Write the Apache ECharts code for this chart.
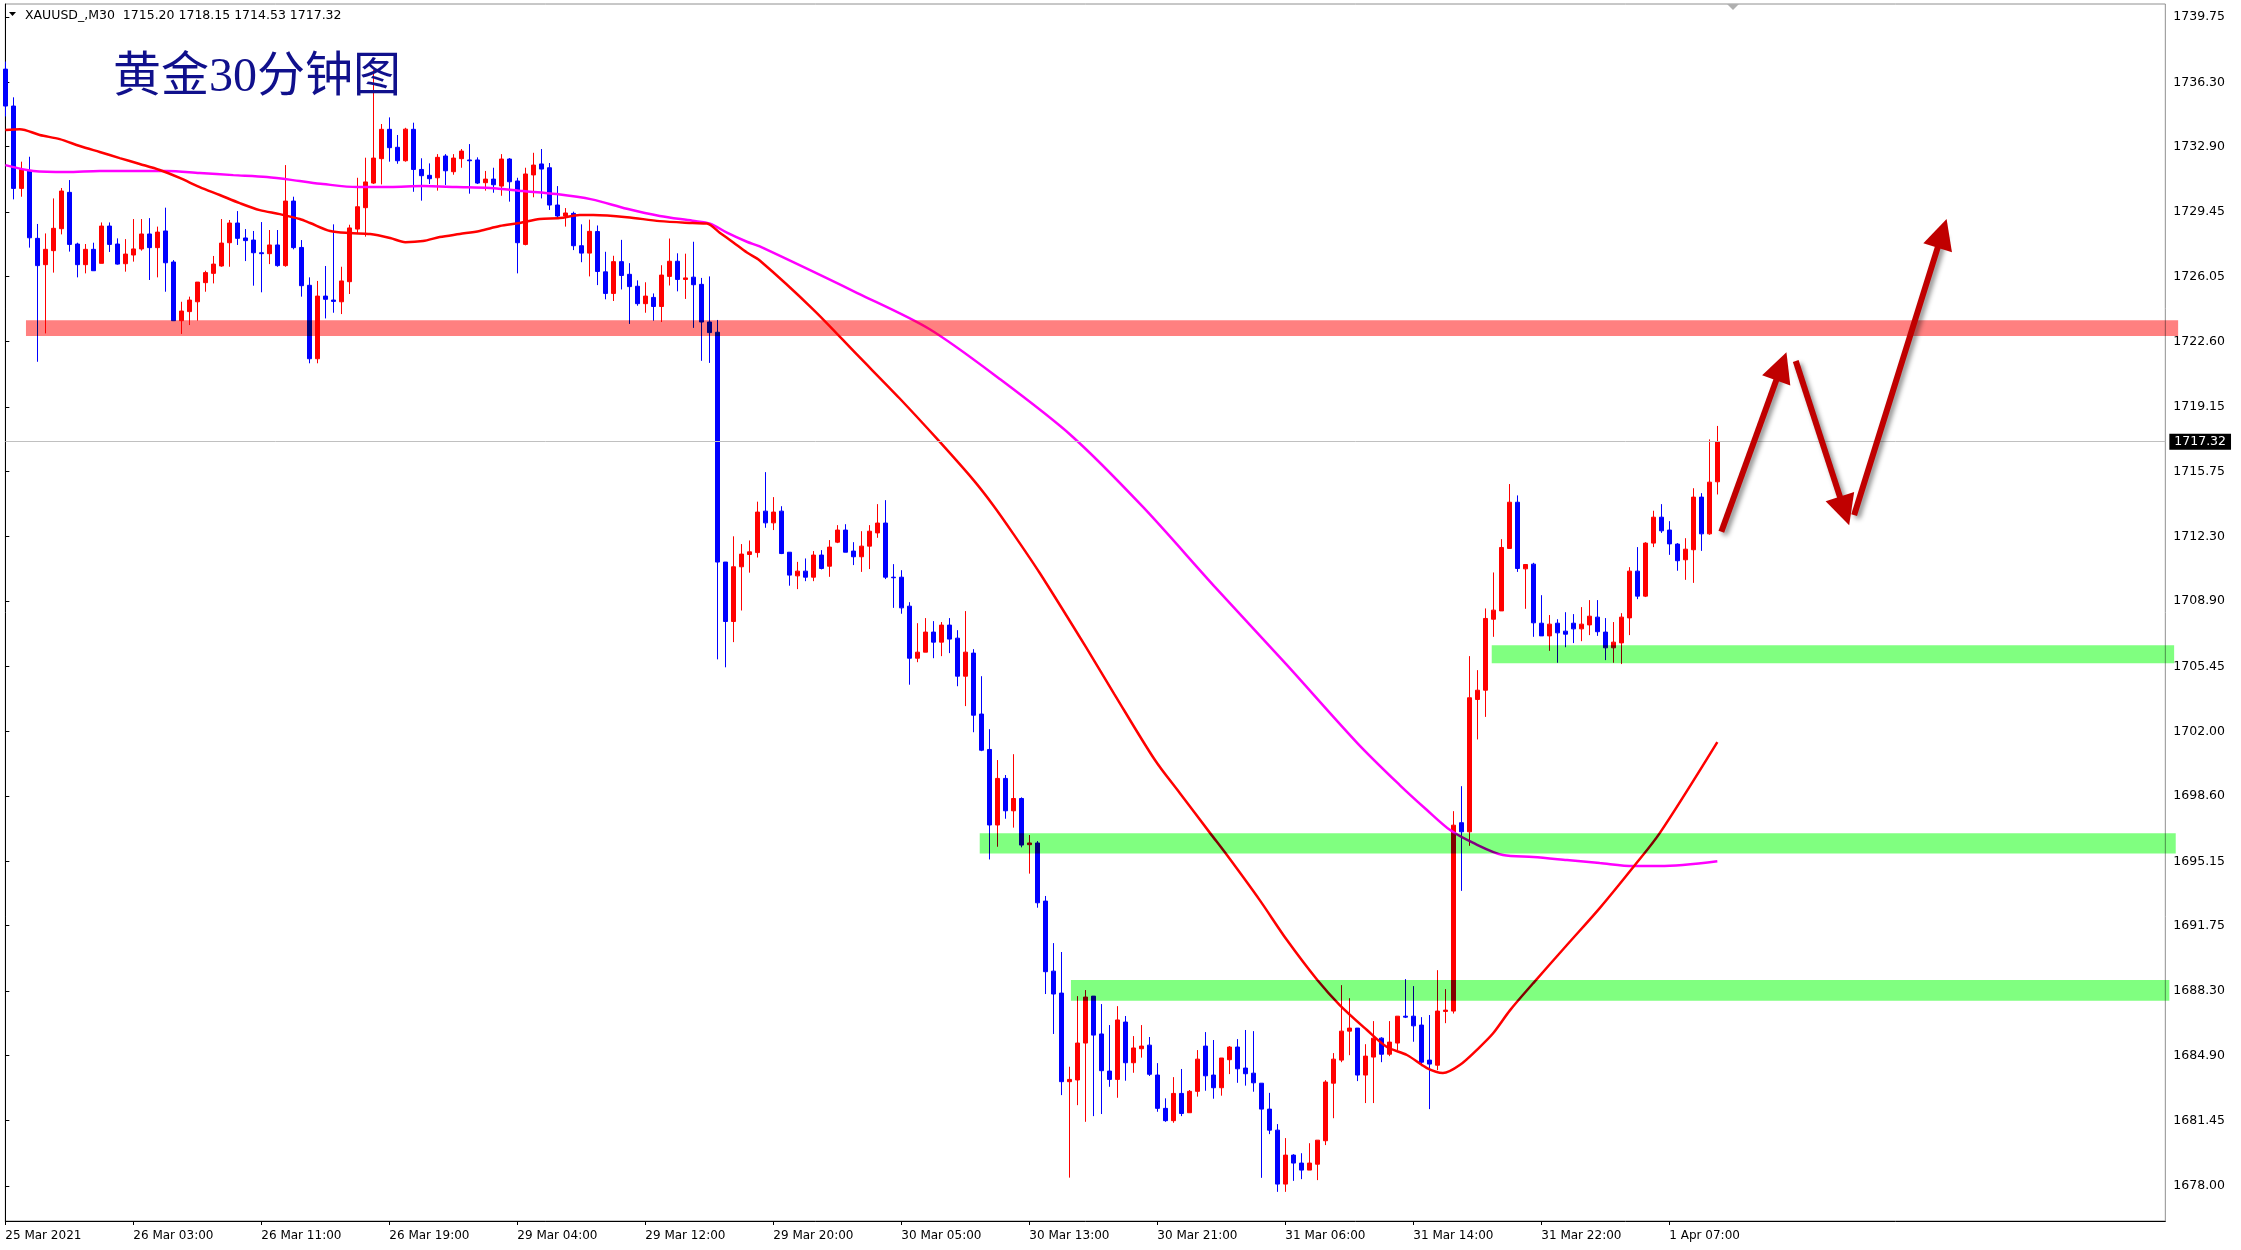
<!DOCTYPE html>
<html><head><meta charset="utf-8">
<script src="https://cdn.jsdelivr.net/npm/echarts@6/dist/echarts.min.js"></script>
<style>html,body{margin:0;padding:0;background:#fff}#c{width:2241px;height:1250px}</style>
</head><body><div id="c"></div>
<script>
const symbolName = 'XAUUSD_,M30';
const titleText = '黄金30分钟图';
const opens = [1737.00,1735.05,1730.70,1731.63,1728.06,1726.67,1727.41,1728.57,1730.49,1727.76,
1726.67,1727.48,1726.74,1728.71,1727.76,1726.72,1727.18,1727.50,1728.29,1727.57,
1728.45,1726.81,1723.71,1724.19,1724.71,1725.72,1726.21,1726.60,1727.83,1728.87,
1728.08,1727.97,1727.30,1727.25,1727.71,1726.62,1730.03,1727.58,1725.58,1721.70,
1725.01,1724.80,1724.71,1725.77,1728.55,1729.68,1730.98,1732.27,1733.82,1732.87,
1732.16,1733.82,1731.70,1731.39,1731.26,1732.41,1731.58,1732.27,1732.20,1732.20,
1731.00,1731.19,1730.82,1732.25,1731.09,1727.74,1731.41,1731.99,1731.79,1729.82,
1729.24,1729.38,1727.67,1727.28,1728.42,1726.29,1725.15,1726.83,1726.16,1725.53,
1724.61,1724.94,1724.46,1726.05,1726.85,1725.89,1726.01,1725.63,1723.64,1723.10,
1710.96,1707.82,1710.71,1711.36,1711.46,1713.65,1713.03,1713.65,1711.48,1710.23,
1710.48,1710.16,1711.33,1710.74,1712.01,1712.65,1711.54,1711.24,1711.80,1712.50,
1713.02,1710.16,1710.16,1708.63,1705.88,1706.20,1707.26,1706.73,1707.63,1706.94,
1704.93,1706.15,1702.93,1701.06,1697.07,1699.53,1697.82,1698.47,1696.03,1696.12,
1693.05,1689.35,1688.19,1683.51,1683.60,1685.55,1688.03,1686.03,1684.07,1683.63,
1686.66,1684.51,1685.25,1685.44,1683.86,1682.10,1681.45,1682.89,1681.87,1683.00,
1685.39,1683.86,1683.19,1684.67,1685.34,1684.23,1683.96,1683.43,1682.06,1680.95,
1678.10,1679.63,1679.21,1678.84,1679.15,1680.39,1683.43,1684.65,1686.18,1686.34,
1683.86,1684.81,1685.81,1684.96,1685.55,1686.97,1686.97,1686.50,1684.65,1684.38,
1687.22,1687.24,1697.19,1696.71,1703.70,1704.19,1707.94,1708.38,1711.68,1714.12,
1710.60,1710.85,1707.73,1707.06,1707.73,1707.31,1707.73,1707.43,1707.64,1708.05,
1707.26,1706.43,1706.69,1708.01,1710.48,1709.16,1711.96,1713.33,1712.65,1711.91,
1711.08,1711.61,1714.39,1712.45,1715.20];
const highs = [1737.40,1735.51,1732.11,1732.37,1728.82,1728.32,1730.17,1730.72,1731.14,1727.83,
1727.76,1727.83,1728.90,1728.90,1728.06,1728.02,1729.08,1729.08,1729.13,1728.68,
1729.68,1726.91,1724.71,1724.98,1725.75,1726.35,1727.13,1729.08,1729.03,1729.50,
1728.55,1728.45,1728.92,1728.50,1728.50,1731.93,1730.26,1727.97,1726.00,1725.81,
1726.60,1728.80,1726.56,1728.78,1731.26,1732.32,1736.95,1734.10,1734.45,1733.52,
1733.90,1734.17,1732.29,1732.02,1732.51,1732.51,1732.51,1732.78,1733.04,1732.34,
1731.62,1731.79,1732.51,1732.30,1731.26,1731.79,1732.58,1732.78,1732.04,1730.82,
1729.66,1729.47,1728.80,1729.05,1728.74,1727.35,1727.14,1727.98,1726.75,1725.84,
1725.74,1725.15,1726.64,1728.05,1727.27,1727.25,1727.88,1725.97,1726.05,1723.75,
1710.96,1712.32,1711.91,1712.10,1714.15,1715.71,1714.39,1713.91,1711.48,1710.97,
1711.15,1711.54,1711.59,1712.12,1712.91,1712.96,1712.01,1712.59,1712.91,1714.02,
1714.23,1710.85,1710.53,1708.84,1707.73,1708.00,1707.84,1707.79,1708.00,1707.36,
1708.37,1706.36,1704.93,1702.13,1700.50,1699.71,1700.81,1698.53,1696.54,1696.22,
1693.32,1690.83,1690.36,1684.30,1688.03,1688.35,1688.03,1687.61,1686.50,1687.50,
1686.98,1685.92,1686.50,1685.87,1684.49,1682.63,1683.75,1684.18,1683.07,1685.18,
1686.13,1685.71,1684.76,1685.39,1685.76,1686.24,1686.18,1683.43,1682.92,1681.27,
1680.53,1679.68,1679.73,1680.26,1680.42,1683.59,1685.02,1688.61,1687.92,1686.34,
1685.49,1686.71,1685.86,1686.71,1686.97,1688.93,1688.56,1686.92,1687.03,1689.40,
1688.40,1697.80,1699.12,1705.99,1705.25,1708.51,1710.41,1712.17,1715.08,1714.48,
1710.83,1710.92,1709.21,1708.16,1707.94,1708.31,1708.21,1708.58,1708.95,1708.95,
1708.00,1707.79,1708.26,1710.69,1711.75,1712.01,1713.67,1714.02,1713.12,1711.96,
1712.22,1714.86,1714.60,1717.44,1718.15];
const lows = [1734.50,1730.12,1730.26,1727.57,1721.54,1723.04,1726.25,1728.27,1727.36,1726.00,
1726.21,1726.35,1726.74,1727.34,1726.67,1726.30,1726.83,1727.41,1725.86,1726.00,
1725.24,1723.71,1723.01,1723.48,1723.71,1725.24,1725.68,1726.56,1726.56,1727.71,
1726.86,1725.56,1725.21,1726.70,1726.56,1726.56,1727.48,1724.98,1721.46,1721.46,
1723.83,1724.13,1724.06,1725.12,1728.32,1728.15,1730.93,1730.91,1732.11,1732.00,
1732.11,1730.52,1730.05,1730.93,1730.58,1730.88,1731.42,1731.79,1730.42,1730.93,
1730.58,1730.47,1730.31,1730.00,1726.21,1727.69,1730.23,1730.17,1729.56,1729.12,
1728.68,1727.44,1726.80,1726.05,1725.59,1724.84,1724.75,1725.36,1723.54,1724.50,
1724.13,1723.71,1723.64,1725.57,1725.26,1724.86,1723.33,1721.59,1721.48,1705.82,
1705.40,1706.73,1708.40,1710.40,1711.20,1712.77,1712.65,1711.38,1709.71,1709.53,
1709.95,1709.95,1710.57,1710.18,1711.96,1711.48,1710.80,1710.44,1710.59,1712.24,
1710.06,1708.54,1708.23,1704.48,1705.67,1706.20,1705.88,1705.99,1706.15,1704.40,
1703.35,1701.97,1700.97,1695.25,1695.92,1697.40,1696.93,1695.89,1694.50,1692.70,
1688.14,1686.03,1682.80,1678.44,1682.27,1681.39,1681.69,1681.80,1683.24,1682.66,
1683.56,1683.98,1684.78,1683.81,1681.92,1681.39,1681.34,1681.69,1681.87,1682.72,
1683.03,1682.61,1682.77,1683.91,1683.45,1683.30,1682.98,1678.43,1680.74,1677.69,
1677.69,1678.27,1678.36,1678.84,1678.31,1680.16,1681.58,1684.54,1684.91,1683.54,
1682.38,1682.38,1684.54,1684.86,1685.18,1686.87,1685.62,1684.33,1682.06,1684.12,
1686.60,1687.11,1693.59,1695.97,1701.59,1702.78,1707.01,1708.38,1711.68,1710.44,
1708.49,1707.01,1707.06,1706.27,1705.64,1706.46,1706.68,1706.78,1707.10,1707.06,
1705.78,1705.64,1705.57,1707.10,1709.00,1709.11,1711.75,1712.50,1711.34,1710.50,
1710.02,1709.86,1711.55,1712.40,1714.53];
const closes = [1735.05,1730.70,1731.70,1728.09,1726.62,1727.48,1728.59,1730.56,1727.74,1726.67,
1727.48,1726.35,1728.71,1727.74,1726.70,1727.23,1727.50,1728.29,1727.57,1728.39,
1726.77,1723.71,1724.22,1724.80,1725.75,1726.25,1726.70,1727.81,1728.87,1728.06,
1727.94,1727.30,1727.25,1727.71,1726.62,1730.03,1727.57,1725.56,1721.70,1725.01,
1724.84,1724.73,1725.81,1728.61,1729.73,1731.04,1732.30,1733.82,1732.85,1732.16,
1733.83,1731.70,1731.37,1731.21,1732.34,1731.63,1732.30,1732.67,1732.16,1730.98,
1731.19,1730.89,1732.25,1731.05,1727.83,1731.46,1731.93,1731.72,1729.82,1729.24,
1729.40,1727.67,1727.28,1728.43,1726.31,1725.15,1726.83,1726.10,1725.51,1724.61,
1725.01,1724.46,1726.12,1726.85,1725.89,1725.97,1725.61,1723.64,1723.08,1710.96,
1707.82,1710.71,1711.38,1711.50,1713.60,1713.03,1713.60,1711.41,1710.27,1710.48,
1710.16,1711.33,1710.62,1711.75,1712.65,1711.48,1711.24,1711.80,1712.59,1713.02,
1710.16,1710.13,1708.54,1705.88,1706.20,1707.26,1706.73,1707.63,1706.89,1704.93,
1706.20,1702.87,1701.02,1697.07,1699.53,1697.82,1698.47,1696.01,1696.12,1692.96,
1689.32,1688.14,1683.51,1683.63,1685.55,1687.98,1685.97,1684.09,1683.63,1686.77,
1684.51,1685.29,1685.39,1683.90,1682.10,1681.45,1682.89,1681.83,1683.00,1684.70,
1683.82,1683.19,1684.76,1685.34,1684.19,1683.93,1683.45,1682.06,1680.95,1678.10,
1679.63,1679.21,1678.84,1679.21,1680.42,1683.49,1684.70,1686.18,1686.34,1683.86,
1684.86,1685.81,1684.96,1685.60,1686.97,1686.92,1686.46,1684.54,1684.44,1687.24,
1687.29,1697.06,1696.71,1703.79,1704.19,1707.98,1708.42,1711.73,1714.12,1710.62,
1710.83,1707.75,1707.06,1707.68,1707.22,1707.15,1707.43,1707.68,1708.10,1707.28,
1706.43,1706.73,1708.05,1710.48,1709.16,1711.96,1713.33,1712.61,1711.92,1711.03,
1711.64,1714.39,1712.45,1715.18,1717.32];

// time labels (one every 16 bars), price tick labels
const timeLabels = ['25 Mar 2021','26 Mar 03:00','26 Mar 11:00','26 Mar 19:00','29 Mar 04:00','29 Mar 12:00',
  '29 Mar 20:00','30 Mar 05:00','30 Mar 13:00','30 Mar 21:00','31 Mar 06:00','31 Mar 14:00','31 Mar 22:00','1 Apr 07:00'];
const priceTicks = [1739.75,1736.30,1732.90,1729.45,1726.05,1722.60,1719.15,1715.75,1712.30,1708.90,
  1705.45,1702.00,1698.60,1695.15,1691.75,1688.30,1684.90,1681.45,1678.00];
const lastPrice = 1717.32;

// moving averages: [bar index, price]
const maFast = [[0,1733.78],[1.8,1733.83],[4.3,1733.52],[6.8,1733.30],[9.3,1732.94],[11.8,1732.62],[14.3,1732.30],
 [16.8,1731.99],[19.3,1731.67],[21.8,1731.25],[24.3,1730.77],[26.8,1730.35],[29.3,1729.92],[31.8,1729.55],[34.3,1729.34],
 [36.8,1729.08],[38.1,1728.87],[40.6,1728.45],[43.1,1728.34],[45.6,1728.29],[48.1,1728.08],[50,1727.86],[52.2,1727.92],
 [54.3,1728.13],[56.8,1728.29],[59.3,1728.45],[61.8,1728.71],[64.3,1728.87],[66.8,1729.08],[69.3,1729.13],[71.8,1729.29],
 [73.5,1729.29],[77.7,1729.18],[81.8,1728.97],[85.9,1728.87],[87.7,1728.84],[89.3,1728.36],[91,1727.84],[92.7,1727.31],
 [94.3,1726.89],[101,1724.3],[106.5,1721.9],[111.8,1719.6],[116.5,1717.45],[121,1715.3],[123.5,1713.95],[126,1712.45],
 [129.3,1710.38],[135.1,1706.45],[138.6,1704.0],[143.7,1700.50],[146.8,1698.76],[150.6,1696.64],[152.7,1695.48],
 [156.8,1693.10],[160.2,1690.99],[164,1688.88],[166.8,1687.56],[170.2,1686.24],[172.7,1685.34],[175.2,1684.92],
 [177.7,1684.23],[179.7,1683.97],[181.8,1684.39],[184.3,1685.34],[186,1686.08],[188.1,1687.29],[191,1688.72],
 [195.2,1690.73],[199.3,1692.68],[203.5,1694.85],[206.8,1696.64],[214,1701.45]];
const maSlow = [[0,1731.93],[3.5,1731.62],[7.7,1731.56],[11.8,1731.62],[20.2,1731.62],[24.3,1731.51],[28.5,1731.40],
 [32.7,1731.30],[36.8,1731.09],[39.7,1730.93],[44,1730.77],[48.1,1730.77],[52.2,1730.82],[56.4,1730.77],[60.6,1730.72],
 [64.7,1730.56],[68.9,1730.40],[73.3,1730.12],[77.7,1729.62],[81.8,1729.24],[85.9,1728.99],[88.1,1728.84],[90.2,1728.36],
 [92.7,1727.88],[94.3,1727.63],[106.5,1725.17],[115.5,1723.27],[124.3,1720.63],[133.3,1717.62],[142.2,1713.87],
 [151.1,1709.69],[160.1,1705.57],[169,1701.40],[174.3,1699.18],[177.7,1697.86],[180.6,1696.80],[183.5,1696.12],
 [187.2,1695.48],[191,1695.38],[195.2,1695.22],[199.3,1695.06],[203.5,1694.90],[206.8,1694.90],[214,1695.16]];

// zones: [fromBar, toBar, lowPrice, highPrice]
const zoneRanges = [[2.58,271.6,1722.90,1723.74],[185.8,271.1,1705.61,1706.57],[121.8,271.3,1695.57,1696.63],[133.2,270.5,1687.78,1688.88]];
const zoneColors = ['#ff8080','#80ff80','#80ff80','#80ff80'];
// projected arrows: [[fromBar, fromPrice],[toBar, toPrice]]
const arrowPaths = [[[214.5,1712.56],[222.0,1721.30]],[[223.8,1721.58],[229.9,1713.66]],[[231.1,1713.44],[242.1,1728.32]]];

const SLOTS = 271;
const categories = Array.from({length: SLOTS}, (_, i) => String(i));
const candleData = opens.map((o, i) => [o, closes[i], lows[i], highs[i]]);
const showTick = (idx) => idx % 16 === 0 && idx / 16 < timeLabels.length;
const FONT = 'DejaVu Sans';

const chart = echarts.init(document.getElementById('c'), null, {renderer: 'canvas'});
chart.setOption({
  backgroundColor: '#ffffff',
  animation: false,
  title: [
    {text: symbolName + '  ' + [opens[214], highs[214], lows[214], closes[214]].map(v => v.toFixed(2)).join(' '),
     left: 25, top: 9, padding: 0,
     textStyle: {fontFamily: FONT, fontSize: 12.5, fontWeight: 'normal', color: '#000', lineHeight: 14}},
    {text: titleText, left: 113, top: 50, padding: 0,
     textStyle: {fontFamily: '"Liberation Serif","Noto Sans CJK SC"', fontSize: 48, fontWeight: 'normal', color: '#10108c', lineHeight: 56}}
  ],
  graphic: [
    {type: 'polygon', shape: {points: [[9, 12], [16, 12], [12.5, 16]]}, style: {fill: '#000'}, z: 100},
    {type: 'polygon', shape: {points: [[1727, 4], [1739, 4], [1733, 10]]}, style: {fill: '#b0b0b0'}, z: 100}
  ],
  grid: {left: 5.33, right: 75.67, top: 4, bottom: 29, show: true, borderColor: '#909090', borderWidth: 1, backgroundColor: '#fff'},
  xAxis: [
    {type: 'category', data: categories, boundaryGap: false,
     axisLine: {show: true, lineStyle: {color: '#000', width: 1}},
     axisTick: {show: true, interval: showTick, length: 4, lineStyle: {color: '#000'}},
     axisLabel: {interval: showTick, formatter: (v, idx) => (showTick(idx) ? timeLabels[idx / 16] : ''),
       align: 'left', margin: 9, color: '#000', fontFamily: FONT, fontSize: 12, showMinLabel: true},
     splitLine: {show: false}},
    {type: 'value', min: 0, max: SLOTS - 1, show: false}
  ],
  yAxis: {type: 'value', position: 'right', min: 1676.15, max: 1740.44,
    axisLine: {show: true, lineStyle: {color: '#000', width: 1}},
    axisTick: {show: true, length: 4, customValues: priceTicks, lineStyle: {color: '#000'}},
    axisLabel: {customValues: priceTicks, formatter: v => v.toFixed(2), margin: 8, color: '#000', fontFamily: FONT, fontSize: 12.5},
    splitLine: {show: false}},
  series: [
    {type: 'candlestick', xAxisIndex: 0, yAxisIndex: 0, data: candleData, barWidth: 4, z: 2,
     itemStyle: {color: '#ff0000', color0: '#0000ff', borderColor: '#ff0000', borderColor0: '#0000ff', borderWidth: 1},
     markLine: {symbol: 'none', silent: true, animation: false,
       lineStyle: {color: '#c0c0c0', width: 1, type: 'solid'},
       label: {position: 'end', formatter: lastPrice.toFixed(2), backgroundColor: '#000', color: '#fff',
         padding: [2, 5, 1, 5], fontFamily: FONT, fontSize: 12.5, distance: 4},
       data: [{yAxis: lastPrice}]}},
    {type: 'line', xAxisIndex: 1, yAxisIndex: 0, data: maSlow, smooth: 0.3, showSymbol: false, z: 3,
     lineStyle: {color: '#ff00ff', width: 2.5}},
    {type: 'line', xAxisIndex: 1, yAxisIndex: 0, data: maFast, smooth: 0.3, showSymbol: false, z: 3,
     lineStyle: {color: '#ff0000', width: 2.5}},
    {type: 'custom', xAxisIndex: 1, yAxisIndex: 0, z: 5, clip: false, silent: true, blendMode: 'multiply',
     data: zoneRanges,
     renderItem: (params, api) => {
       const p0 = api.coord([api.value(0), api.value(3)]);
       const p1 = api.coord([api.value(1), api.value(2)]);
       return {type: 'rect', shape: {x: p0[0], y: p0[1], width: p1[0] - p0[0], height: p1[1] - p0[1]},
         style: {fill: zoneColors[params.dataIndex]}};
     }},
    {type: 'lines', coordinateSystem: 'cartesian2d', xAxisIndex: 1, yAxisIndex: 0, z: 6, silent: true,
     symbol: ['none', 'triangle'], symbolSize: [24, 30],
     lineStyle: {color: '#c00000', width: 6, opacity: 1, shadowBlur: 5, shadowColor: 'rgba(0,0,0,0.45)', shadowOffsetX: 3, shadowOffsetY: 3},
     data: arrowPaths.map(p => ({coords: p}))}
  ]
});
</script></body></html>
